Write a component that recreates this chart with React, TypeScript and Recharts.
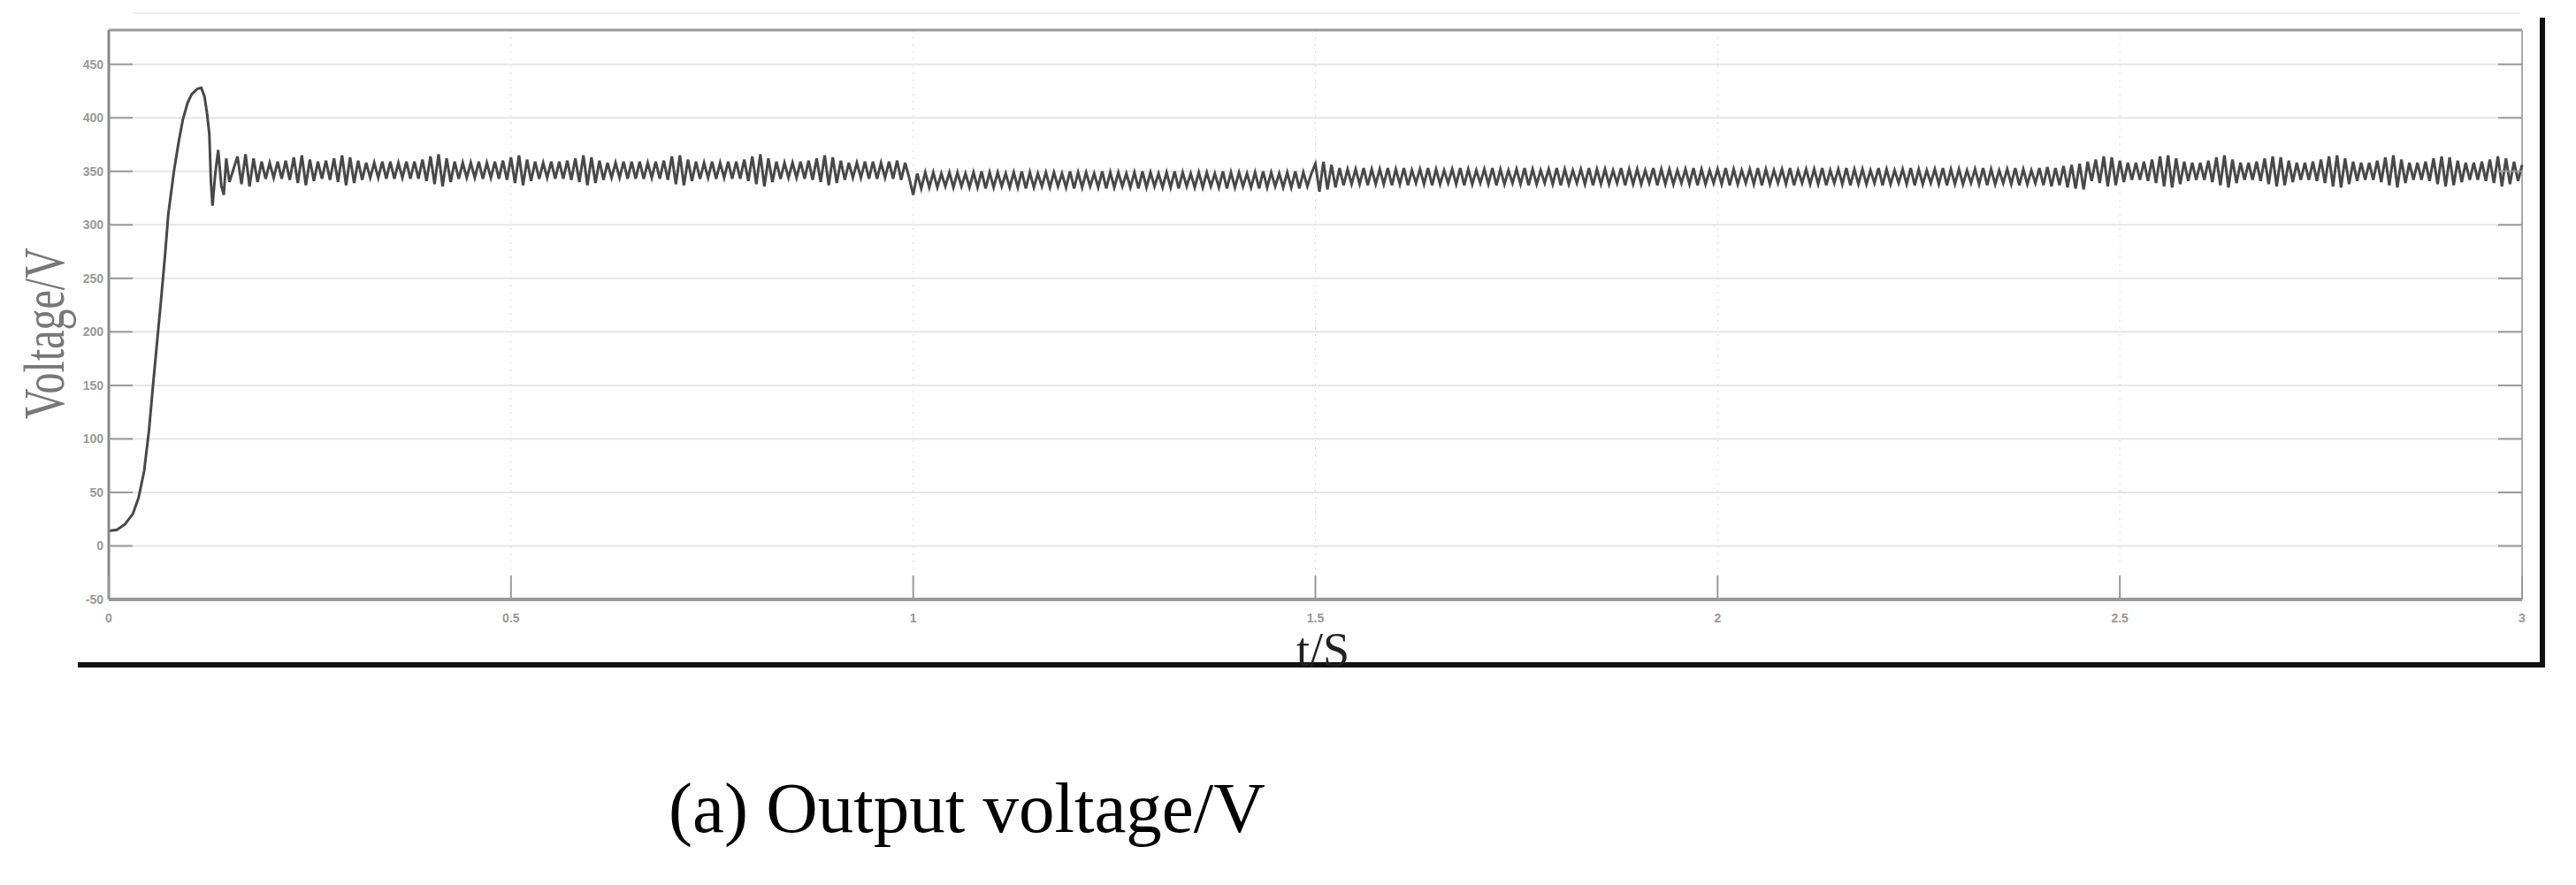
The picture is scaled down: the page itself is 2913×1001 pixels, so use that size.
import { CartesianGrid, Line, LineChart, ReferenceLine, XAxis, YAxis } from "recharts"

// start-up transient
const startupTime = [
  0, 0.01, 0.02, 0.03, 0.037, 0.044, 0.05, 0.055, 0.06, 0.065, 0.07, 0.074, 0.081, 0.087, 0.092,
  0.098, 0.103, 0.11, 0.115, 0.119, 0.122, 0.125, 0.127, 0.129, 0.132, 0.136, 0.14, 0.143, 0.146, 0.15,
]
const startupVolt = [
  14, 15, 20, 30, 45, 70, 108, 150, 190, 230, 272, 310, 350, 378, 398,
  414, 422, 427, 428, 420, 405, 385, 340, 318, 345, 370, 336, 328, 362, 340,
]

// steady state ripple, one sample every 5 ms from 0.16 s
const steadyStart = 0.16
const steadyStep = 0.005
const steadyVolt = [
  364, 338, 366, 336, 362, 340, 359, 343, 358, 344, 359, 343, 360, 342, 363, 339, 365, 337, 361, 341,
  359, 343, 360, 342, 362, 340, 365, 337, 363, 339, 360, 342, 358, 344, 358, 344, 359, 343, 359, 343,
  358, 344, 359, 343, 359, 343, 361, 341, 364, 338, 366, 336, 362, 340, 359, 343, 358, 344, 358, 344,
  359, 343, 358, 344, 359, 343, 360, 342, 363, 339, 365, 337, 361, 341, 359, 343, 358, 344, 359, 343,
  359, 343, 360, 342, 362, 340, 365, 337, 363, 339, 360, 342, 358, 344, 358, 344, 359, 343, 359, 343,
  359, 343, 358, 344, 359, 343, 360, 342, 364, 338, 365, 337, 361, 341, 359, 343, 358, 344, 359, 343,
  358, 344, 359, 343, 359, 343, 361, 341, 364, 338, 366, 336, 362, 340, 359, 343, 358, 344, 358, 344,
  359, 343, 360, 342, 362, 340, 365, 337, 363, 339, 360, 342, 358, 344, 358, 344, 359, 343, 359, 343,
  358, 344, 359, 343, 360, 342, 358, 344,
  // load step at 1 s
  328, 348, 334, 349, 335, 349, 335, 348, 336, 349, 335, 349, 336, 348, 335, 349, 335, 350, 334, 349,
  335, 349, 336, 348, 335, 349, 335, 350, 334, 349, 335, 348, 336, 349, 335, 349, 336, 348, 335, 350,
  334, 349, 335, 349, 336, 348, 335, 350, 334, 349, 335, 349, 336, 348, 335, 349, 334, 350, 335, 349,
  336, 348, 335, 349, 335, 350, 334, 349, 336, 348, 335, 349, 335, 349, 336, 348, 335, 350, 334, 349,
  335, 349, 336, 348, 335, 349, 334, 350, 335, 349, 336, 348, 335, 349, 335, 350, 334, 349, 336, 348,
  // 1.5 s
  357, 331, 359, 333, 356, 335, 353, 337, 352, 338, 352, 338, 353, 337, 352, 338, 352, 338, 353, 337,
  352, 338, 353, 337, 351, 339, 352, 338, 353, 337, 352, 338, 351, 339, 352, 338, 353, 337, 352, 338,
  351, 339, 352, 338, 353, 337, 352, 338, 351, 339, 352, 338, 353, 337, 352, 338, 351, 339, 352, 338,
  353, 337, 352, 338, 351, 339, 352, 338, 353, 337, 352, 338, 352, 338, 351, 339, 353, 337, 352, 338,
  352, 338, 351, 339, 353, 337, 352, 338, 352, 338, 351, 339, 352, 338, 353, 337, 352, 338, 351, 339,
  352, 338, 353, 337, 352, 338, 351, 339, 352, 338, 353, 337, 352, 338, 351, 339, 352, 338, 353, 337,
  351, 339, 352, 338, 352, 338, 353, 337, 351, 339, 352, 338, 353, 337, 352, 338, 352, 338, 351, 339,
  353, 337, 352, 338, 351, 339, 352, 338, 353, 337, 352, 338, 351, 339, 352, 338, 353, 337, 352, 338,
  352, 338, 351, 339, 352, 338, 353, 337, 352, 338, 351, 339, 352, 338, 353, 337, 352, 338, 351, 339,
  353, 337, 354, 336, 353, 337, 355, 335, 356, 334, 357, 333,
  // 2.46 s on
  359, 341, 361, 339, 364, 336, 363, 337, 360, 340, 358, 342, 358, 342, 359, 341, 361, 339, 364, 336,
  365, 335, 362, 338, 359, 341, 358, 342, 358, 342, 360, 340, 363, 337, 365, 335, 361, 339, 358, 342,
  358, 342, 359, 341, 362, 338, 364, 336, 363, 337, 360, 340, 358, 342, 358, 342, 359, 341, 361, 339,
  364, 336, 365, 335, 362, 338, 359, 341, 358, 342, 358, 342, 360, 340, 363, 337, 365, 335, 361, 339,
  358, 342, 358, 342, 359, 341, 362, 338, 364, 336, 363, 337, 360, 340, 358, 342, 358, 342, 359, 341,
  361, 339, 364, 336, 362, 338, 359, 341, 356,
]

const xTicks = [0, 0.5, 1, 1.5, 2, 2.5, 3]
const yTicks = [-50, 0, 50, 100, 150, 200, 250, 300, 350, 400, 450]
const yMin = -50
const yMax = 482

const data = [
  ...startupTime.map((t, i) => ({ t, v: startupVolt[i] })),
  ...steadyVolt.map((v, i) => ({ t: Math.round((steadyStart + i * steadyStep) * 1000) / 1000, v })),
]

const W = 2897
const H = 760
const PLOT_LEFT = 115
const PLOT_RIGHT = 2844
const PLOT_BOTTOM = 670
const TICK = 27

function YTick({ y, payload }: any) {
  return (
    <g>
      <line x1={PLOT_LEFT} x2={PLOT_LEFT + TICK} y1={y} y2={y} stroke="#999" strokeWidth={2} />
      <line x1={PLOT_RIGHT - TICK} x2={PLOT_RIGHT} y1={y} y2={y} stroke="#999" strokeWidth={2} />
      <text x={PLOT_LEFT - 6} y={y} dy={5} textAnchor="end" fontSize={14} fontFamily="Arial" fill="#999" fontWeight="bold">
        {payload.value}
      </text>
    </g>
  )
}

function XTick({ x, payload }: any) {
  return (
    <g>
      <line x1={x} x2={x} y1={PLOT_BOTTOM} y2={PLOT_BOTTOM - TICK} stroke="#999" strokeWidth={2} />
      <text x={x} y={PLOT_BOTTOM + 26} textAnchor="middle" fontSize={14} fontFamily="Arial" fill="#999" fontWeight="bold">
        {payload.value}
      </text>
    </g>
  )
}

export default function App() {
  return (
    <div style={{ position: "relative", width: W, height: 985, background: "#fff" }}>
      <div style={{ position: "absolute", left: 142, top: 6, width: 2700, height: 2, background: "#eeeeee" }} />
      <LineChart width={W} height={H} data={data} margin={{ top: 26, right: W - PLOT_RIGHT, bottom: 50, left: 0 }}>
        <CartesianGrid stroke="#e6e6e6" strokeWidth={2} vertical={false} />
        <CartesianGrid stroke="#dedede" strokeDasharray="2 6" horizontal={false} />
        <XAxis
          dataKey="t"
          type="number"
          domain={[0, 3]}
          ticks={xTicks}
          height={40}
          axisLine={{ stroke: "#999", strokeWidth: 4 }}
          tickLine={false}
          tick={<XTick />}
          interval={0}
        />
        <YAxis
          type="number"
          domain={[yMin, yMax]}
          ticks={yTicks}
          width={PLOT_LEFT}
          axisLine={{ stroke: "#888", strokeWidth: 3 }}
          tickLine={false}
          tick={<YTick />}
          interval={0}
          allowDataOverflow
        />
        <ReferenceLine y={yMax} stroke="#999" strokeWidth={3} />
        <ReferenceLine x={3} stroke="#aaa" strokeWidth={2} />
        <Line dataKey="v" type="linear" dot={false} stroke="#484848" strokeWidth={3} isAnimationActive={false} />
      </LineChart>
      {/* heavy outer frame */}
      <div style={{ position: "absolute", left: 2864, top: 12, width: 6, height: 735, background: "#111" }} />
      <div style={{ position: "absolute", left: 80, top: 741, width: 2790, height: 6, background: "#111" }} />
      <div
        style={{
          position: "absolute",
          left: 1458,
          top: 700,
          fontSize: 54,
          lineHeight: "54px",
          fontFamily: "'Liberation Serif', serif",
          color: "#222",
        }}
      >
        t/S
      </div>
      <div
        style={{
          position: "absolute",
          left: 42,
          top: 369,
          fontSize: 50,
          lineHeight: "50px",
          whiteSpace: "nowrap",
          fontFamily: "'Liberation Serif', serif",
          color: "#777",
          transform: "translate(-50%, -50%) rotate(-90deg) scale(0.96, 1.3)",
        }}
      >
        Voltage/V
      </div>
      <div
        style={{
          position: "absolute",
          left: 748,
          top: 866,
          fontSize: 81,
          lineHeight: "81px",
          whiteSpace: "nowrap",
          fontFamily: "'Liberation Serif', serif",
          color: "#000",
        }}
      >
        (a) Output voltage/V
      </div>
    </div>
  )
}
